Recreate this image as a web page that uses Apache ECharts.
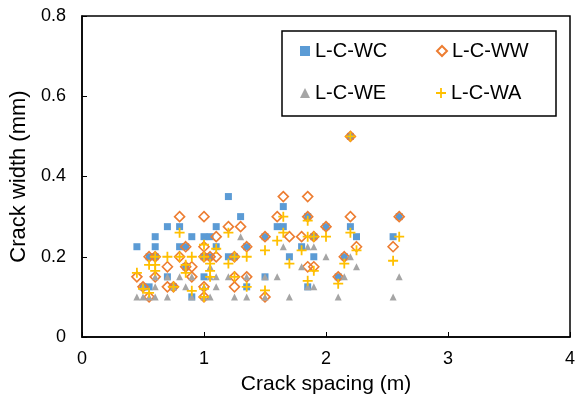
<!DOCTYPE html>
<html>
<head>
<meta charset="utf-8">
<script src="https://cdn.jsdelivr.net/npm/echarts@6/dist/echarts.min.js"></script>
<style>
body{margin:0;background:#fff;}
#crack-chart{width:582px;height:402px;}
</style>
</head>
<body>
<div id="crack-chart"></div>
<script>
// 图例名称
var seriesNames = ['L-C-WC', 'L-C-WW', 'L-C-WE', 'L-C-WA'];
var xTicks = [0, 1, 2, 3, 4];
var yTicks = [0, 0.2, 0.4, 0.6, 0.8];

// [crack spacing (m), crack width (mm)]
var dataWC = [
	[0.45,0.225],[0.5,0.125],[0.55,0.2],[0.55,0.125],[0.6,0.25],[0.6,0.225],[0.6,0.2],
	[0.7,0.275],[0.7,0.15],[0.75,0.125],[0.8,0.275],[0.8,0.225],[0.85,0.225],[0.85,0.175],
	[0.9,0.25],[0.9,0.1],[1.0,0.25],[1.05,0.25],[1.0,0.2],[1.0,0.15],[1.05,0.2],[1.1,0.275],
	[1.1,0.225],[1.2,0.35],[1.2,0.2],[1.25,0.2],[1.3,0.3],[1.35,0.225],[1.35,0.125],
	[1.5,0.25],[1.5,0.15],[1.6,0.275],[1.65,0.275],[1.65,0.325],[1.7,0.2],[1.8,0.225],
	[1.85,0.3],[1.85,0.125],[1.9,0.2],[1.9,0.25],[2.0,0.275],[2.1,0.15],[2.15,0.2],
	[2.2,0.275],[2.2,0.5],[2.25,0.25],[2.55,0.25],[2.6,0.3]
];
var dataWW = [
	[0.45,0.15],[0.5,0.125],[0.55,0.1],[0.55,0.2],[0.6,0.2],[0.6,0.15],[0.7,0.175],[0.7,0.125],
	[0.75,0.125],[0.8,0.3],[0.8,0.2],[0.85,0.225],[0.85,0.175],[0.9,0.175],[0.9,0.15],
	[1.0,0.3],[1.0,0.225],[1.0,0.2],[1.0,0.125],[1.0,0.1],[1.05,0.2],[1.1,0.25],[1.1,0.2],
	[1.2,0.275],[1.25,0.2],[1.25,0.15],[1.25,0.125],[1.3,0.275],[1.35,0.225],[1.35,0.15],
	[1.5,0.25],[1.5,0.1],[1.6,0.3],[1.65,0.35],[1.7,0.25],[1.8,0.25],[1.85,0.35],[1.85,0.3],
	[1.85,0.175],[1.9,0.25],[1.9,0.175],[2.0,0.275],[2.1,0.15],[2.15,0.2],[2.2,0.3],[2.2,0.5],
	[2.25,0.225],[2.55,0.225],[2.6,0.3]
];
var dataWE = [
	[0.45,0.1],[0.5,0.1],[0.55,0.1],[0.6,0.1],[0.7,0.1],[0.9,0.1],[1.0,0.1],[1.05,0.1],
	[1.25,0.1],[1.35,0.1],[1.5,0.1],[1.7,0.1],[2.1,0.1],[2.55,0.1],
	[0.5,0.125],[0.6,0.125],[0.75,0.125],[0.85,0.125],[1.0,0.125],[1.1,0.125],[1.85,0.125],[1.9,0.125],
	[0.6,0.15],[0.7,0.15],[0.8,0.15],[0.9,0.15],[1.05,0.15],[1.1,0.15],[1.2,0.15],[1.35,0.15],
	[1.5,0.15],[1.6,0.15],[2.15,0.15],[2.6,0.15],
	[1.05,0.175],[1.8,0.175],[2.25,0.175],[2.0,0.2],[2.2,0.2],
	[1.65,0.225],[1.85,0.225],[1.9,0.225],[1.3,0.25]
];
var dataWA = [
	[0.45,0.16],[0.5,0.12],[0.55,0.11],[0.55,0.18],[0.6,0.18],[0.6,0.165],[0.6,0.2],[0.7,0.2],
	[0.75,0.125],[0.8,0.26],[0.8,0.2],[0.85,0.18],[0.85,0.16],[0.9,0.2],[0.9,0.115],
	[1.0,0.23],[1.0,0.2],[1.0,0.12],[1.0,0.1],[1.05,0.183],[1.05,0.165],[1.05,0.15],[1.1,0.22],
	[1.2,0.26],[1.2,0.183],[1.25,0.2],[1.25,0.15],[1.35,0.2],[1.35,0.125],[1.5,0.216],[1.5,0.116],
	[1.6,0.24],[1.65,0.26],[1.65,0.3],[1.7,0.183],[1.8,0.216],[1.85,0.29],[1.85,0.25],[1.85,0.14],
	[1.9,0.25],[1.9,0.165],[2.0,0.25],[2.1,0.133],[2.15,0.183],[2.2,0.26],[2.2,0.5],[2.25,0.216],
	[2.55,0.19],[2.6,0.25]
];

function crackChart(dom) {
	this.myChart = echarts.init(document.getElementById(dom));
	var font = 'Liberation Sans, Arial, sans-serif';
	var plus = 'path://M4.1,0H5.9V4.1H10V5.9H5.9V10H4.1V5.9H0V4.1H4.1Z';
	var legendPos = [[300, 41], [436, 41], [300, 83], [436, 83]];
	var legends = [];
	for (var i = 0; i < 4; i++) {
		legends.push({
			data: [seriesNames[i]],
			left: legendPos[i][0],
			top: legendPos[i][1],
			itemWidth: 10,
			itemHeight: 10,
			itemGap: 0,
			padding: 0,
			textStyle: {fontFamily: font, fontSize: 20, color: '#000'}
		});
	}
	this.opts = {
		animation: false,
		grid: {left: 82, right: 12, top: 16, bottom: 65, show: true, borderColor: '#000', borderWidth: 1.5},
		graphic: [{
			type: 'rect', z: 3,
			shape: {x: 282, y: 31, width: 274, height: 85},
			style: {fill: '#fff', stroke: '#000', lineWidth: 1.5}
		}],
		legend: legends,
		xAxis: {
			type: 'value', min: xTicks[0], max: xTicks[xTicks.length - 1], interval: 1,
			name: 'Crack spacing (m)', nameLocation: 'middle', nameGap: 37,
			nameTextStyle: {fontFamily: font, fontSize: 21, color: '#000'},
			axisLine: {lineStyle: {color: '#000', width: 1.5}},
			axisTick: {inside: true, length: 5, lineStyle: {color: '#000'}},
			axisLabel: {fontFamily: font, fontSize: 18, color: '#000', margin: 13},
			splitLine: {show: false}
		},
		yAxis: {
			type: 'value', min: yTicks[0], max: yTicks[yTicks.length - 1], interval: 0.2,
			name: 'Crack width (mm)', nameLocation: 'middle', nameGap: 46,
			nameTextStyle: {fontFamily: font, fontSize: 22, color: '#000'},
			axisLine: {lineStyle: {color: '#000', width: 1.5}},
			axisTick: {inside: true, length: 5, lineStyle: {color: '#000'}},
			axisLabel: {fontFamily: font, fontSize: 18, color: '#000', margin: 16},
			splitLine: {show: false}
		},
		series: [
			{name: seriesNames[0], type: 'scatter', symbol: 'rect', symbolSize: 7,
				itemStyle: {color: '#5B9BD5', opacity: 1}, data: dataWC},
			{name: seriesNames[1], type: 'scatter', symbol: 'diamond', symbolSize: 10,
				itemStyle: {color: 'rgba(255,255,255,0)', borderColor: '#ED7D31', borderWidth: 1.6, opacity: 1}, data: dataWW},
			{name: seriesNames[2], type: 'scatter', symbol: 'triangle', symbolSize: 7,
				itemStyle: {color: '#A5A5A5', opacity: 1}, data: dataWE},
			{name: seriesNames[3], type: 'scatter', symbol: plus, symbolSize: 10,
				itemStyle: {color: '#FFC000', opacity: 1}, data: dataWA}
		]
	};
}
crackChart.prototype.init = function(){
	this.myChart.setOption(this.opts);
};
var chart = new crackChart('crack-chart');
chart.init();
</script>
</body>
</html>
